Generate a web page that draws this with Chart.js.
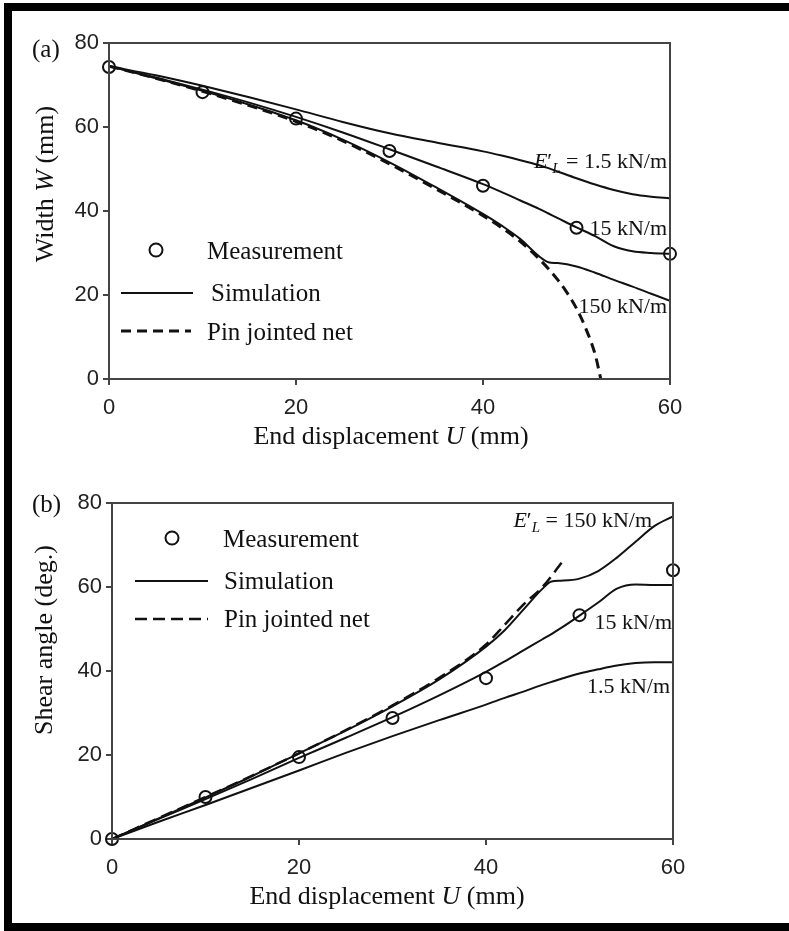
<!DOCTYPE html>
<html>
<head>
<meta charset="utf-8">
<script src="https://cdn.jsdelivr.net/npm/chart.js@4/dist/chart.umd.min.js"></script>
<style>
  html, body { margin: 0; padding: 0; background: #fff; overflow: hidden; }
  body { width: 789px; height: 931px; position: relative; }
  #frame { position: absolute; left: 4px; top: 3px; width: 785px; height: 912px;
           border-left: 8px solid #000; border-top: 8px solid #000; border-bottom: 8px solid #000; }
  canvas { position: absolute; left: 0; }
  #chartA { top: 0; }
  #chartB { top: 465px; }
</style>
</head>
<body>
<div id="frame"></div>
<canvas id="chartA" width="789" height="465"></canvas>
<canvas id="chartB" width="789" height="466"></canvas>
<script>
// ---- (a) width vs end displacement ----
const uMeasA = [0, 10, 20, 30, 40, 50, 60];
const wMeas = [74.3, 68.3, 62, 54.3, 46, 36, 29.8];

const uSimA = [0, 5, 10, 15, 20, 25, 30, 35, 40, 42, 44, 46, 47, 48, 50, 52, 54, 56, 58, 60];
const wSim1_5 = [74.5, 72.3, 69.8, 67.1, 64.2, 61.2, 58.5, 56.3, 54.2, 53.2, 52.1, 50.9, 50.2, 49.4, 47.8, 46.3, 45.0, 44.0, 43.4, 43.0];
const wSim15 = [74.5, 71.8, 68.9, 65.8, 62.4, 58.7, 54.7, 50.6, 46.4, 44.5, 42.5, 40.5, 39.4, 38.3, 36.1, 34.0, 31.6, 30.4, 30.0, 29.8];
const wSim150 = [74.5, 71.6, 68.6, 65.3, 61.6, 57.0, 51.6, 45.6, 39.3, 36.5, 33.3, 29.2, 27.8, 27.6, 26.8, 25.3, 23.6, 22.0, 20.3, 18.6];

const uPinA = [0, 5, 10, 15, 20, 25, 30, 35, 40, 42, 44, 46, 48, 49, 50, 51, 52, 52.6];
const wPin = [74.5, 71.6, 68.5, 65.1, 61.3, 56.7, 51.2, 45.2, 38.9, 36.0, 32.7, 28.6, 23.6, 20.5, 16.8, 12.0, 5.8, 0];

// ---- (b) shear angle vs end displacement ----
const uMeasB = [0, 10, 20, 30, 40, 50, 60];
const sMeas = [0, 10, 19.5, 28.8, 38.3, 53.3, 64];

const uSimB = [0, 5, 10, 15, 20, 25, 30, 35, 40, 42, 44, 46, 47, 48, 50, 52, 54, 56, 58, 60];
const sSim150 = [0, 4.9, 9.9, 15.0, 20.4, 25.8, 31.6, 38.0, 45.8, 49.7, 54.6, 59.5, 61.3, 61.5, 62.0, 63.8, 67.0, 70.8, 74.5, 76.8];
const sSim15 = [0, 4.8, 9.5, 14.3, 19.3, 24.1, 29.0, 34.2, 39.8, 42.3, 44.9, 47.5, 48.8, 50.2, 53.2, 56.3, 59.6, 60.6, 60.5, 60.5];
const sSim1_5 = [0, 4.1, 8.1, 12.2, 16.3, 20.5, 24.5, 28.3, 32.0, 33.6, 35.1, 36.7, 37.4, 38.1, 39.4, 40.4, 41.3, 41.9, 42.1, 42.1];

const uPinB = [0, 5, 10, 15, 20, 25, 30, 35, 40, 42, 44, 46, 48.1];
const sPin = [0, 5, 10, 15.1, 20.4, 25.9, 31.8, 38.4, 46.3, 51.0, 55.8, 59.9, 65.8];

const xTicks = [0, 20, 40, 60];
const yTicks = [0, 20, 40, 60, 80];

const SERIF = '"Liberation Serif", "Times New Roman", serif';
const SANS = '"Liberation Sans", Arial, sans-serif';
const INK = '#111';

const pts = (xs, ys) => xs.map((x, i) => ({ x, y: ys[i] }));

function drawRich(ctx, parts, x, y, align, size, angle) {
    ctx.save();
    ctx.translate(x, y);
    if (angle) ctx.rotate(angle);
    ctx.textBaseline = 'middle';
    ctx.textAlign = 'left';
    ctx.fillStyle = INK;
    const fontOf = p => `${p.i ? 'italic ' : ''}${p.sub ? Math.round(size * 0.68) : size}px ${SERIF}`;
    let total = 0;
    parts.forEach(p => { ctx.font = fontOf(p); total += ctx.measureText(p.t).width; });
    let cx = align === 'left' ? 0 : align === 'right' ? -total : -total / 2;
    parts.forEach(p => {
        ctx.font = fontOf(p);
        ctx.fillText(p.t, cx, p.sub ? size * 0.3 : 0);
        cx += ctx.measureText(p.t).width;
    });
    ctx.restore();
}

// frame, legend and labels drawn over the plot
const decor = {
    id: 'decor',
    afterDraw(chart, args, opts) {
        const ctx = chart.ctx;
        const a = chart.chartArea;
        ctx.save();
        ctx.strokeStyle = '#444';
        ctx.lineWidth = 2;
        ctx.strokeRect(a.left, a.top, a.right - a.left, a.bottom - a.top);

        const lg = opts.legend;
        ctx.strokeStyle = INK;
        ctx.lineWidth = 2;
        ctx.beginPath();
        ctx.arc(lg.circle[0], lg.circle[1], 6.5, 0, Math.PI * 2);
        ctx.stroke();
        ctx.lineWidth = 2.2;
        ctx.beginPath();
        ctx.moveTo(lg.solid[0], lg.solid[2]);
        ctx.lineTo(lg.solid[1], lg.solid[2]);
        ctx.stroke();
        ctx.lineWidth = lg.dashWidth;
        ctx.setLineDash(lg.dash);
        ctx.beginPath();
        ctx.moveTo(lg.dashed[0], lg.dashed[2]);
        ctx.lineTo(lg.dashed[1], lg.dashed[2]);
        ctx.stroke();
        ctx.setLineDash([]);
        ctx.restore();

        opts.texts.forEach(t => drawRich(ctx, t.parts, t.x, t.y, t.align, t.size, t.angle || 0));
    }
};

function makeChart(id, cfg) {
    const sim = (xs, ys) => ({
        data: pts(xs, ys), showLine: true, pointRadius: 0, borderColor: INK,
        borderWidth: 2, cubicInterpolationMode: 'monotone', fill: false
    });
    return new Chart(document.getElementById(id), {
        type: 'scatter',
        data: {
            datasets: [
                {
                    label: 'Measurement', data: cfg.meas, pointRadius: 6, pointBorderWidth: 2,
                    pointBorderColor: INK, pointBackgroundColor: 'rgba(0,0,0,0)', showLine: false, clip: false
                },
                ...cfg.sims.map(s => ({ label: 'Simulation', ...sim(s[0], s[1]) })),
                {
                    label: 'Pin jointed net', ...sim(cfg.pin[0], cfg.pin[1]),
                    borderWidth: cfg.legend.dashWidth, borderDash: cfg.legend.dash
                }
            ]
        },
        options: {
            responsive: false,
            animation: false,
            devicePixelRatio: 1,
            layout: { padding: { top: cfg.area.top, right: cfg.area.right, left: 0, bottom: 0 } },
            plugins: { legend: { display: false }, tooltip: { enabled: false }, decor: { legend: cfg.legend, texts: cfg.texts } },
            scales: {
                x: {
                    type: 'linear', min: 0, max: 60,
                    afterBuildTicks: s => { s.ticks = xTicks.map(v => ({ value: v })); },
                    ticks: { font: { family: SANS, size: 22 }, color: '#222', padding: 10 },
                    grid: { drawOnChartArea: false, tickLength: 6, color: '#444', lineWidth: 2 },
                    border: { color: '#444', width: 2 },
                    afterFit: s => { s.height = cfg.area.xh; }
                },
                y: {
                    type: 'linear', min: 0, max: 80,
                    afterBuildTicks: s => { s.ticks = yTicks.map(v => ({ value: v })); },
                    ticks: { font: { family: SANS, size: 22 }, color: '#222', padding: 4 },
                    grid: { drawOnChartArea: false, tickLength: 6, color: '#444', lineWidth: 2 },
                    border: { color: '#444', width: 2 },
                    afterFit: s => { s.width = cfg.area.yw; }
                }
            }
        },
        plugins: [decor]
    });
}

const EL = (rest) => [{ t: 'E', i: true }, { t: '\u2032' }, { t: 'L', i: true, sub: true }, { t: ' = ' + rest }];

makeChart('chartA', {
    meas: pts(uMeasA, wMeas),
    sims: [[uSimA, wSim1_5], [uSimA, wSim15], [uSimA, wSim150]],
    pin: [uPinA, wPin],
    area: { top: 43, right: 119, yw: 109, xh: 86 },
    legend: { circle: [156, 250], solid: [121, 193, 293], dashed: [121, 191, 331], dash: [10, 6], dashWidth: 3 },
    texts: [
        { parts: [{ t: '(a)' }], x: 32, y: 50, align: 'left', size: 25 },
        { parts: [{ t: 'Measurement' }], x: 207, y: 252, align: 'left', size: 25 },
        { parts: [{ t: 'Simulation' }], x: 211, y: 294, align: 'left', size: 25 },
        { parts: [{ t: 'Pin jointed net' }], x: 207, y: 333, align: 'left', size: 25 },
        { parts: EL('1.5 kN/m'), x: 667, y: 162, align: 'right', size: 22 },
        { parts: [{ t: '15 kN/m' }], x: 667, y: 229, align: 'right', size: 22 },
        { parts: [{ t: '150 kN/m' }], x: 667, y: 307, align: 'right', size: 22 },
        { parts: [{ t: 'End displacement ' }, { t: 'U', i: true }, { t: ' (mm)' }], x: 391, y: 437, align: 'center', size: 26 },
        { parts: [{ t: 'Width ' }, { t: 'W', i: true }, { t: ' (mm)' }], x: 46, y: 184, align: 'center', size: 26, angle: -Math.PI / 2 }
    ]
});

makeChart('chartB', {
    meas: pts(uMeasB, sMeas),
    sims: [[uSimB, sSim150], [uSimB, sSim15], [uSimB, sSim1_5]],
    pin: [uPinB, sPin],
    area: { top: 38, right: 116, yw: 112, xh: 92 },
    legend: { circle: [172, 73], solid: [135, 208, 116], dashed: [135, 208, 154], dash: [12, 6], dashWidth: 2.5 },
    texts: [
        { parts: [{ t: '(b)' }], x: 32, y: 40, align: 'left', size: 25 },
        { parts: [{ t: 'Measurement' }], x: 223, y: 75, align: 'left', size: 25 },
        { parts: [{ t: 'Simulation' }], x: 224, y: 117, align: 'left', size: 25 },
        { parts: [{ t: 'Pin jointed net' }], x: 224, y: 155, align: 'left', size: 25 },
        { parts: EL('150 kN/m'), x: 652, y: 56, align: 'right', size: 22 },
        { parts: [{ t: '15 kN/m' }], x: 672, y: 158, align: 'right', size: 22 },
        { parts: [{ t: '1.5 kN/m' }], x: 670, y: 222, align: 'right', size: 22 },
        { parts: [{ t: 'End displacement ' }, { t: 'U', i: true }, { t: ' (mm)' }], x: 387, y: 432, align: 'center', size: 26 },
        { parts: [{ t: 'Shear angle (deg.)' }], x: 45, y: 175, align: 'center', size: 26, angle: -Math.PI / 2 }
    ]
});
</script>
</body>
</html>
